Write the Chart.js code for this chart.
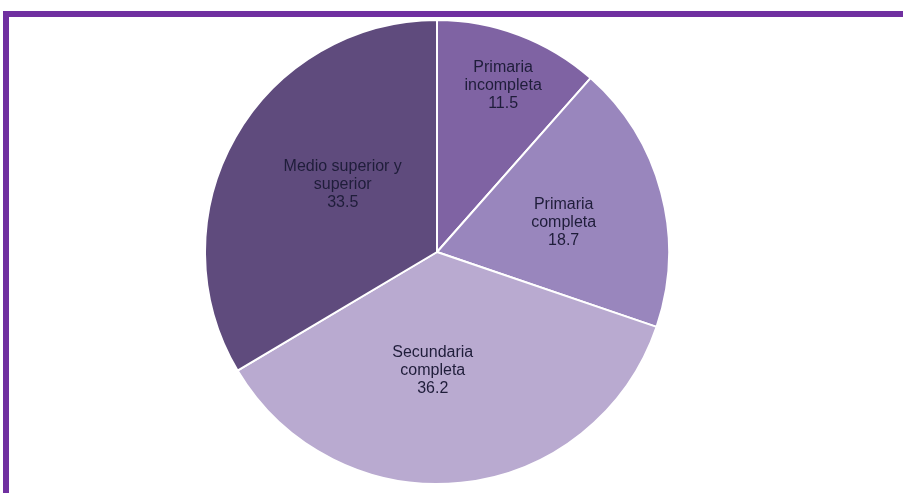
<!DOCTYPE html>
<html>
<head>
<meta charset="utf-8">
<script src="https://cdn.jsdelivr.net/npm/chart.js@4.4.0/dist/chart.umd.min.js"></script>
<style>
  html, body { margin: 0; padding: 0; background: #fff; }
  body { width: 903px; height: 493px; position: relative; overflow: hidden; }
  .frame {
    position: absolute; left: 3px; top: 11px; width: 910px; height: 500px;
    border-top: 6px solid #7030a0; border-left: 6px solid #7030a0;
  }
  .box { position: absolute; left: 204px; top: 19px; width: 466px; height: 466px; }
</style>
</head>
<body>
<div class="frame"></div>
<div class="box"><canvas id="pieChart"></canvas></div>
<script>
const categories = [
  ['Primaria', 'incompleta'],
  ['Primaria', 'completa'],
  ['Secundaria', 'completa'],
  ['Medio superior y', 'superior']
];
const values = [11.5, 18.7, 36.2, 33.5];
const valueLabels = ['11.5', '18.7', '36.2', '33.5'];
const sliceColors = ['#7f63a3', '#9986bd', '#b9aad0', '#5f4b7d'];
// label placement: fraction of radius, and a small turn (degrees) off the slice middle
const labelRadius = [0.77, 0.56, 0.51, 0.50];
const labelTurn = [1, 2, 8, 6];

const sliceLabels = {
  id: 'sliceLabels',
  afterDatasetsDraw(chart) {
    const c = chart.ctx;
    const arcs = chart.getDatasetMeta(0).data;
    c.save();
    c.font = '16px "Liberation Sans", Arial, sans-serif';
    c.fillStyle = '#1f1d3a';
    c.textAlign = 'center';
    c.textBaseline = 'middle';
    arcs.forEach(function (arc, i) {
      const p = arc.getProps(['x', 'y', 'startAngle', 'endAngle', 'outerRadius'], true);
      const mid = (p.startAngle + p.endAngle) / 2 + labelTurn[i] * Math.PI / 180;
      const r = p.outerRadius * labelRadius[i];
      const cx = p.x + Math.cos(mid) * r;
      const cy = p.y + Math.sin(mid) * r;
      const lines = categories[i].concat([valueLabels[i]]);
      const lh = 18;
      lines.forEach(function (t, k) {
        c.fillText(t, cx, cy + (k - (lines.length - 1) / 2) * lh);
      });
    });
    c.restore();
  }
};

new Chart(document.getElementById('pieChart').getContext('2d'), {
  type: 'pie',
  data: {
    labels: categories.map(l => l.join(' ')),
    datasets: [{
      data: values,
      backgroundColor: sliceColors,
      borderColor: '#ffffff',
      borderWidth: 2
    }]
  },
  options: {
    responsive: true,
    maintainAspectRatio: false,
    animation: false,
    plugins: {
      legend: { display: false },
      tooltip: { enabled: false }
    }
  },
  plugins: [sliceLabels]
});
</script>
</body>
</html>
